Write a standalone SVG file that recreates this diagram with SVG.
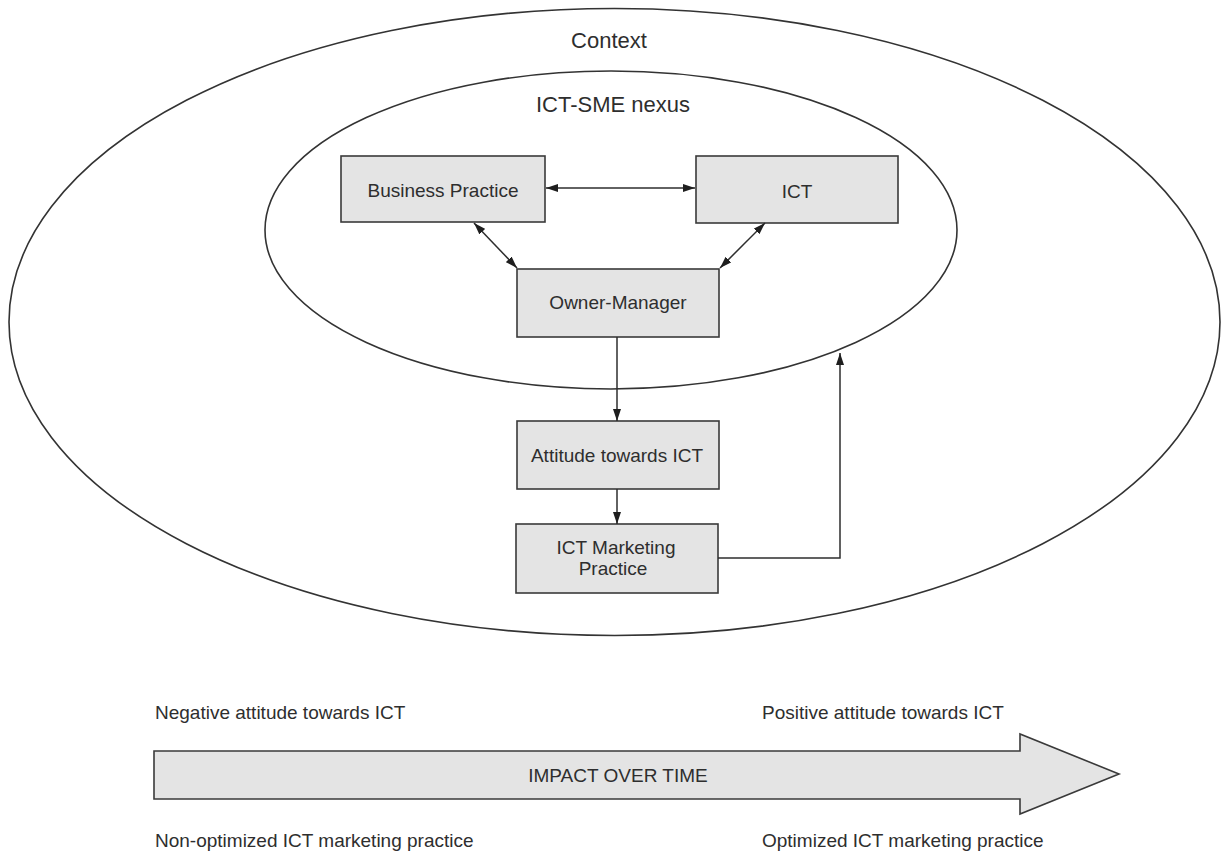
<svg xmlns="http://www.w3.org/2000/svg" width="1228" height="852" viewBox="0 0 1228 852">
<defs>
<style>
.ell{fill:none;stroke:#333;stroke-width:1.6}
.box{fill:#e4e4e4;stroke:#3a3a3a;stroke-width:1.6}
.t{font-family:"Liberation Sans",Arial,sans-serif;fill:#2e2e2e;font-size:19px}
.big{font-size:22px}
.c{text-anchor:middle}
.ln{fill:none;stroke:#2e2e2e;stroke-width:1.5}
</style>
<marker id="ah" viewBox="0 0 12 8" refX="12" refY="4" markerWidth="12" markerHeight="8" markerUnits="userSpaceOnUse" orient="auto-start-reverse">
<path d="M0,0 L12,4 L0,8 z" fill="#1e1e1e"/>
</marker>
</defs>
<rect width="1228" height="852" fill="#fff"/>
<g id="context">
<ellipse class="ell" cx="614.5" cy="322" rx="605.5" ry="313.5"/>
<text class="t big c" x="609" y="48">Context</text>
</g>
<g id="nexus">
<ellipse class="ell" cx="611" cy="230" rx="346" ry="159"/>
<text class="t big c" x="613" y="112">ICT-SME nexus</text>
</g>
<g id="business-practice">
<rect class="box" x="341" y="156" width="204" height="66"/>
<text class="t c" x="443" y="197">Business Practice</text>
</g>
<g id="ict">
<rect class="box" x="696" y="156" width="202" height="67"/>
<text class="t c" x="797" y="198">ICT</text>
</g>
<g id="owner-manager">
<rect class="box" x="517" y="269" width="202" height="68"/>
<text class="t c" x="618" y="309">Owner-Manager</text>
</g>
<g id="attitude">
<rect class="box" x="517" y="421" width="202" height="68"/>
<text class="t c" x="617" y="462">Attitude towards ICT</text>
</g>
<g id="marketing-practice">
<rect class="box" x="516" y="524" width="202" height="69"/>
<text class="t c" x="616" y="554">ICT Marketing</text>
<text class="t c" x="613" y="575">Practice</text>
</g>
<g id="connectors">
<line class="ln" x1="546" y1="188" x2="695" y2="188" marker-start="url(#ah)" marker-end="url(#ah)"/>
<line class="ln" x1="474" y1="223" x2="517" y2="268" marker-start="url(#ah)" marker-end="url(#ah)"/>
<line class="ln" x1="765" y1="223" x2="720" y2="268" marker-start="url(#ah)" marker-end="url(#ah)"/>
<line class="ln" x1="617" y1="337" x2="617" y2="421" marker-end="url(#ah)"/>
<line class="ln" x1="617" y1="489" x2="617" y2="524" marker-end="url(#ah)"/>
<polyline class="ln" points="718,558 840,558 840,353" marker-end="url(#ah)"/>
</g>
<g id="impact">
<polygon class="box" points="154,751 1020,751 1020,734 1119,774 1020,814 1020,799 154,799"/>
<text class="t c" x="618" y="782">IMPACT OVER TIME</text>
</g>
<g id="labels">
<text class="t" x="155" y="719">Negative attitude towards ICT</text>
<text class="t" x="762" y="719">Positive attitude towards ICT</text>
<text class="t" x="155" y="847">Non-optimized ICT marketing practice</text>
<text class="t" x="762" y="847">Optimized ICT marketing practice</text>
</g>
</svg>
